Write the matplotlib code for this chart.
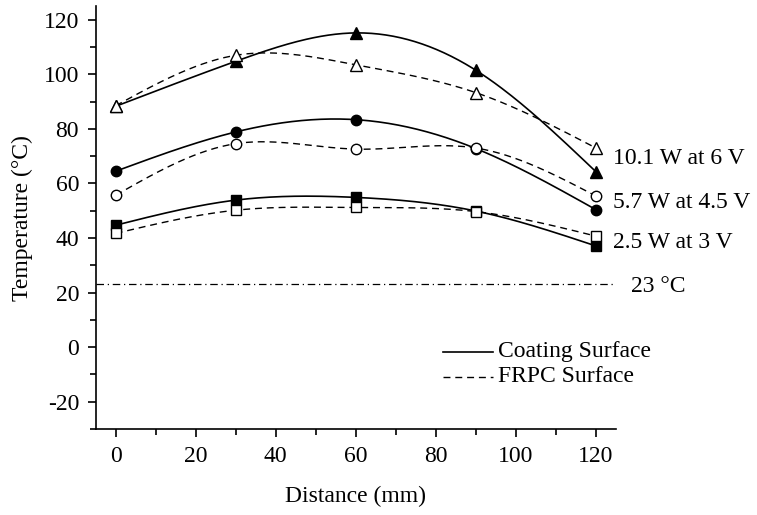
import numpy as np
import matplotlib
matplotlib.use("Agg")
import matplotlib.pyplot as plt
from matplotlib.lines import Line2D

plt.rcParams['font.family'] = ['Liberation Serif', 'DejaVu Serif']
plt.rcParams['axes.unicode_minus'] = False

distance = [0, 30, 60, 90, 120]
coat_10w = [88.3, 104.8, 115.2, 101.5, 64.3]
frpc_10w = [88.5, 107.0, 103.5, 93.3, 73.0]
coat_57w = [64.5, 78.9, 83.4, 72.8, 50.4]
frpc_57w = [55.7, 74.6, 72.6, 73.0, 55.4]
coat_25w = [44.7, 53.9, 54.9, 49.9, 37.1]
frpc_25w = [41.7, 50.2, 51.2, 49.7, 40.7]
labels = ["10.1 W at 6 V", "5.7 W at 4.5 V", "2.5 W at 3 V"]
ambient = 23


def natural_spline(x, y, n=200):
    x = np.asarray(x, float); y = np.asarray(y, float)
    k = len(x); h = np.diff(x)
    A = np.zeros((k, k)); b = np.zeros(k)
    A[0, 0] = A[-1, -1] = 1
    for i in range(1, k - 1):
        A[i, i - 1] = h[i - 1]; A[i, i] = 2 * (h[i - 1] + h[i]); A[i, i + 1] = h[i]
        b[i] = 3 * ((y[i + 1] - y[i]) / h[i] - (y[i] - y[i - 1]) / h[i - 1])
    c = np.linalg.solve(A, b)
    xs = np.linspace(x[0], x[-1], n)
    idx = np.clip(np.searchsorted(x, xs) - 1, 0, k - 2)
    dx = xs - x[idx]
    bb = (y[1:] - y[:-1]) / h - h * (2 * c[:-1] + c[1:]) / 3
    d = (c[1:] - c[:-1]) / (3 * h)
    ys = y[idx] + bb[idx] * dx + c[idx] * dx ** 2 + d[idx] * dx ** 3
    return xs, ys


fig = plt.figure(figsize=(7.57, 5.15), dpi=100)
ax = fig.add_axes([0.1264, 0.167, 0.6873, 0.821])

series = [
    (coat_10w, '^', 'k', '-'), (frpc_10w, '^', 'white', '--'),
    (coat_57w, 'o', 'k', '-'), (frpc_57w, 'o', 'white', '--'),
    (coat_25w, 's', 'k', '-'), (frpc_25w, 's', 'white', '--'),
]
for vals, m, fc, ls in series:
    xs, ys = natural_spline(distance, vals)
    if ls == '-':
        ax.plot(xs, ys, color='k', lw=1.2, ls='-', zorder=2)
    else:
        ax.plot(xs, ys, color='k', lw=1.0, dashes=(5, 3.5), zorder=2)
    ax.plot(distance, vals, ls='none', marker=m, ms=8 if m == '^' else 7.5,
            mfc=fc, mec='k', mew=1.0, zorder=3)

ax.axhline(ambient, color='k', lw=0.9, dashes=(6, 3, 1, 3), zorder=1)

ax.set_xlim(-5, 125)
ax.set_ylim(-30, 125)
ax.set_xticks(range(0, 121, 20))
ax.set_xticks(range(10, 121, 20), minor=True)
ax.set_yticks(range(-20, 121, 20))
ax.set_yticks(range(-30, 121, 20), minor=True)
for s in ['top', 'right']:
    ax.spines[s].set_visible(False)
for s in ['left', 'bottom']:
    ax.spines[s].set_linewidth(1.2)
ax.tick_params(which='major', direction='out', length=6, width=1.2, labelsize=17, pad=6)
ax.tick_params(which='minor', direction='out', length=4, width=1.2)

ax.set_xlabel("Distance (mm)", fontsize=17, labelpad=14)
ax.set_ylabel("Temperature (°C)", fontsize=17, labelpad=8)

label_y = [(158, labels[0]), (203, labels[1]), (242, labels[2])]
for ypx, txt in label_y:
    fig.text(613 / 757, 1 - ypx / 515, txt, fontsize=17, va='center', ha='left')
fig.text(631 / 757, 1 - 287 / 515, f"{ambient} °C", fontsize=17, va='center', ha='left')

fig.add_artist(Line2D([443 / 757, 493 / 757], [1 - 352 / 515] * 2, color='k', lw=1.2))
fig.add_artist(Line2D([443 / 757, 493 / 757], [1 - 377 / 515] * 2, color='k', lw=1.0, dashes=(5, 3.5)))
fig.text(498 / 757, 1 - 352 / 515, "Coating Surface", fontsize=17, va='center', ha='left')
fig.text(498 / 757, 1 - 377 / 515, "FRPC Surface", fontsize=17, va='center', ha='left')

fig.savefig("out.png", dpi=100)
